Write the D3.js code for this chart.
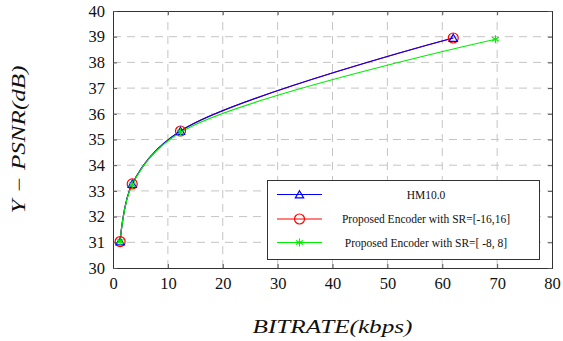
<!DOCTYPE html>
<html>
<head>
<meta charset="utf-8">
<script src="https://cdn.jsdelivr.net/npm/d3@7"></script>
<style>
  body { margin: 0; background: #fff; }
</style>
</head>
<body>
<script>
// data
const hmBitrate = [1.3, 3.5, 12.3, 62.0]
const hmPsnr = [31.03, 33.27, 35.33, 38.95]
const sr16Bitrate = [1.3, 3.5, 12.3, 62.0]
const sr16Psnr = [31.03, 33.27, 35.33, 38.95]
const sr8Bitrate = [1.3, 3.5, 12.3, 69.7]
const sr8Psnr = [31.03, 33.24, 35.28, 38.9]
const xTicks = [0, 10, 20, 30, 40, 50, 60, 70, 80]
const yTicks = [30, 31, 32, 33, 34, 35, 36, 37, 38, 39, 40]
const legendLabels = ['HM10.0', 'Proposed Encoder with SR=[-16,16]', 'Proposed Encoder with SR=[ -8, 8]']

const W = 563, H = 341
const m = { left: 113, right: 11, top: 11, bottom: 73 }
const TIMES = "'Liberation Serif', serif"

const svg = d3.select('body').append('svg')
  .attr('width', W).attr('height', H)

const x = d3.scaleLinear().domain([0, 80]).range([m.left, W - m.right])
const y = d3.scaleLinear().domain([30, 40]).range([H - m.bottom, m.top])

// grid
const grid = svg.append('g')
grid.selectAll('.gx').data(xTicks.slice(1, -1)).enter().append('line')
  .attr('x1', d => x(d)).attr('x2', d => x(d))
  .attr('y1', y(30)).attr('y2', y(40))
grid.selectAll('.gy').data(yTicks.slice(1, -1)).enter().append('line')
  .attr('x1', x(0)).attr('x2', x(80))
  .attr('y1', d => y(d)).attr('y2', d => y(d))
grid.selectAll('line')
  .attr('stroke', '#c4c4c4').attr('stroke-width', 1)
  .attr('stroke-dasharray', '8,6')

// axes with inner ticks on all four sides
const tickLen = 4
const axB = svg.append('g').attr('transform', `translate(0,${y(30)})`)
  .call(d3.axisBottom(x).tickValues(xTicks).tickSize(-tickLen).tickPadding(9))
const axT = svg.append('g').attr('transform', `translate(0,${y(40)})`)
  .call(d3.axisTop(x).tickValues(xTicks).tickSize(-tickLen).tickFormat(''))
const axL = svg.append('g').attr('transform', `translate(${x(0)},0)`)
  .call(d3.axisLeft(y).tickValues(yTicks).tickSize(-tickLen).tickPadding(8))
const axR = svg.append('g').attr('transform', `translate(${x(80)},0)`)
  .call(d3.axisRight(y).tickValues(yTicks).tickSize(-tickLen).tickFormat(''))
;[axB, axT, axL, axR].forEach(a => {
  a.attr('font-family', TIMES)
  a.select('.domain').attr('stroke', '#333').attr('stroke-width', 1)
  a.selectAll('.tick line').attr('stroke', '#555')
  a.selectAll('text').attr('font-size', 16.5).attr('fill', '#111')
})

// axis titles
svg.append('text')
  .attr('x', (x(0) + x(80)) / 2).attr('y', 333)
  .attr('text-anchor', 'middle').attr('font-style', 'italic').attr('font-size', 18)
  .attr('font-family', TIMES).attr('fill', '#111')
  .attr('textLength', 160).attr('lengthAdjust', 'spacingAndGlyphs')
  .text('BITRATE(kbps)')
svg.append('text')
  .attr('transform', `translate(25,${(y(30) + y(40)) / 2}) rotate(-90)`)
  .attr('text-anchor', 'middle').attr('font-style', 'italic').attr('font-size', 18)
  .attr('font-family', TIMES).attr('fill', '#111')
  .attr('textLength', 148).attr('lengthAdjust', 'spacingAndGlyphs')
  .text('Y − PSNR(dB)')

const line = d3.line().x(d => x(d[0])).y(d => y(d[1])).curve(d3.curveCatmullRom.alpha(0.5))

const series = [
  { xs: hmBitrate, ys: hmPsnr, color: '#0000ff', marker: 'tri' },
  { xs: sr16Bitrate, ys: sr16Psnr, color: '#ff0000', marker: 'circ' },
  { xs: sr8Bitrate, ys: sr8Psnr, color: '#00ee00', marker: 'star' }
]

const drawMarker = (g, type, color, cx, cy) => {
  if (type === 'tri') {
    g.append('path').attr('d', d3.symbol(d3.symbolTriangle, 30)())
      .attr('transform', `translate(${cx},${cy + 1})`)
      .attr('fill', 'none').attr('stroke', color).attr('stroke-width', 1.2)
  } else if (type === 'circ') {
    g.append('circle').attr('cx', cx).attr('cy', cy).attr('r', 5)
      .attr('fill', 'none').attr('stroke', color).attr('stroke-width', 1.2)
  } else {
    g.append('path').attr('d', d3.symbol(d3.symbolAsterisk, 45)())
      .attr('transform', `translate(${cx},${cy})`)
      .attr('fill', 'none').attr('stroke', color).attr('stroke-width', 1.1)
  }
}

// red under blue, green on top, as in the reference
const order = [1, 0, 2]
order.forEach(i => {
  const s = series[i]
  svg.append('path').datum(d3.zip(s.xs, s.ys))
    .attr('d', line).attr('fill', 'none')
    .attr('stroke', s.color).attr('stroke-width', 1.2)
})
order.forEach(i => {
  const s = series[i]
  const g = svg.append('g')
  d3.zip(s.xs, s.ys).forEach(p => drawMarker(g, s.marker, s.color, x(p[0]), y(p[1])))
})

// legend
const lg = svg.append('g')
lg.append('rect').attr('x', 267.5).attr('y', 180.5).attr('width', 272).attr('height', 79)
  .attr('fill', '#fff').attr('stroke', '#333').attr('stroke-width', 1)
const rowY = [194.5, 219, 242.5]
series.forEach((s, i) => {
  lg.append('line').attr('x1', 277).attr('x2', 322)
    .attr('y1', rowY[i]).attr('y2', rowY[i])
    .attr('stroke', s.color).attr('stroke-width', 1.2)
  drawMarker(lg, s.marker, s.color, 299.5, rowY[i])
  lg.append('text').attr('x', 426).attr('y', rowY[i] + 4)
    .attr('text-anchor', 'middle').attr('font-size', 11.5)
    .attr('font-family', TIMES).attr('fill', '#111')
    .text(legendLabels[i])
})
</script>
</body>
</html>
